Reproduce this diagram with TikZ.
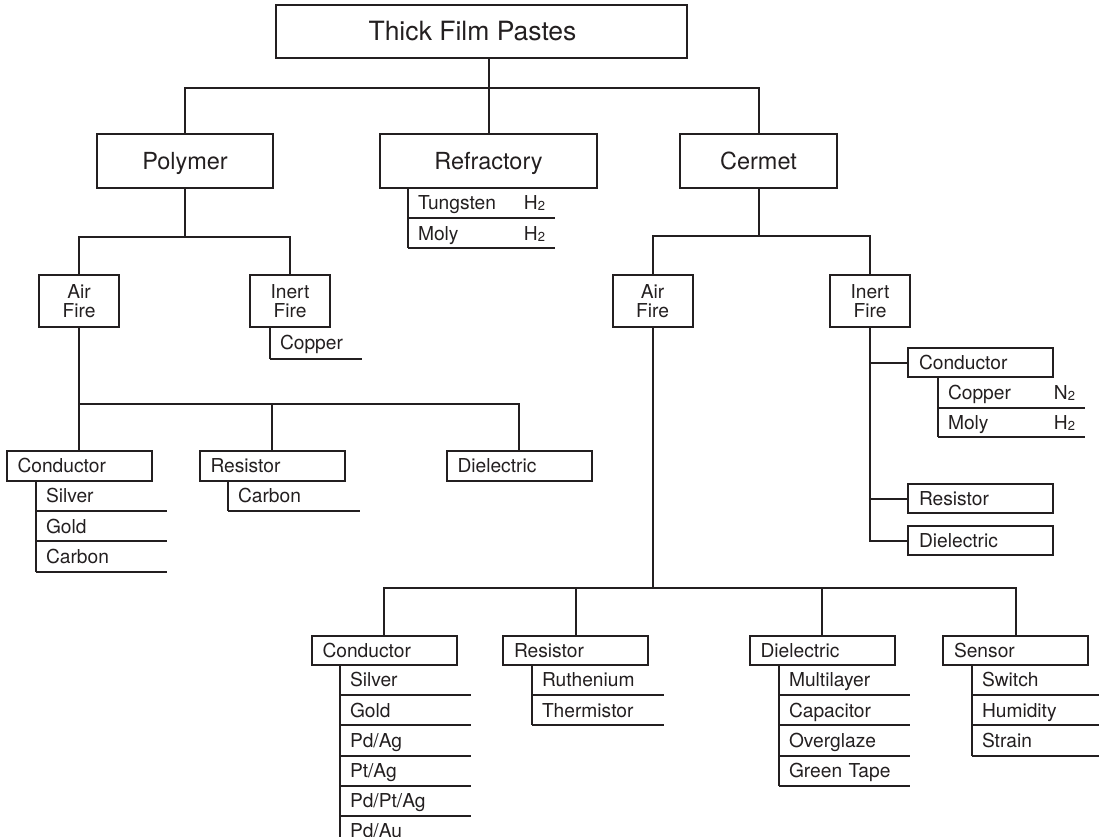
\documentclass[tikz,border=0pt]{standalone}
\usepackage{fontspec}
\setmainfont{TeX Gyre Heros}
\usepackage{tikz}
\usetikzlibrary{positioning}
\definecolor{ink}{RGB}{35,31,32}
\newcommand{\titlesize}{\fontsize{26.5}{28}\selectfont}
\newcommand{\headsize}{\fontsize{23.5}{25}\selectfont}
\newcommand{\labelsize}{\fontsize{19.2}{18.5}\selectfont}
\newcommand{\gas}[2]{#1{\fontsize{13}{13}\selectfont\raisebox{-1pt}{#2}}}

\tikzset{
  headbox/.style={draw, inner sep=0pt, minimum height=54pt, text height=16.9pt, text depth=0pt, font=\headsize},
  firebox/.style={draw, inner sep=0pt, minimum width=80pt, minimum height=52pt, align=center, font=\labelsize},
  catbox/.style={draw, inner xsep=11pt, inner ysep=0pt, text width=123pt, minimum height=29.5pt, text height=13.6pt, text depth=0pt, align=left, font=\labelsize},
  itemrow/.style={inner xsep=9pt, inner ysep=0pt, text width=#1, minimum height=28.2pt, text height=13.6pt, text depth=0pt, align=left, font=\labelsize,
    append after command={(\tikzlastnode.north west) edge (\tikzlastnode.south west) (\tikzlastnode.south west) edge (\tikzlastnode.south east)}},
  itemrow/.default=111pt
}

\begin{document}
\begin{tikzpicture}[x=1pt, y=-1pt, line width=2pt, color=ink]
  \useasboundingbox (0,0) rectangle (1099,836);

  % Root and the three paste families
  \node[draw, inner sep=0pt, minimum width=411pt, minimum height=53pt, font=\titlesize] (pastes) at (481.5,31.5) {Thick Film Pastes\hspace*{18pt}};
  \node[headbox, minimum width=176pt] (polymer) at (185,161) {Polymer};
  \node[headbox, minimum width=217pt] (refractory) at (488.5,161) {Refractory};
  \node[headbox, minimum width=157pt] (cermet) at (758.5,161) {Cermet};

  \coordinate (topbus) at (488.5,88);
  \draw (pastes.south -| refractory.north) -- (refractory.north);
  \draw (polymer.north) |- (topbus) -| (cermet.north);

  % Refractory
  \node[itemrow=127pt, anchor=north west] (tungsten) at (408,188) {Tungsten\hfill\gas{H}{2}};
  \node[itemrow=127pt, below=0pt of tungsten] (moly) {Moly\hfill\gas{H}{2}};

  % Polymer
  \node[firebox] (polyair) at (79,301) {Air\\Fire};
  \node[firebox] (polyinert) at (290,301) {Inert\\Fire};
  \coordinate (polybus) at (185,237);
  \draw (polymer.south) -- (polybus);
  \draw (polyair.north) |- (polybus) -| (polyinert.north);

  \node[itemrow=72pt, minimum height=30pt, anchor=north west] (polycopper) at (270,327) {Copper};

  \node[catbox] (pcond) at (79,466) {Conductor};
  \node[catbox] (pres) at (272,466) {Resistor};
  \node[catbox] (pdiel) at (519,466) {Dielectric};
  \coordinate (pairbus) at (79,404);
  \draw (polyair.south) -- (pcond.north);
  \draw (pres.north) |- (pairbus);
  \draw (pairbus) -| (pdiel.north);

  \node[itemrow, anchor=north west] (psilver) at (36,481) {Silver};
  \node[itemrow, below=0pt of psilver] (pgold) {Gold};
  \node[itemrow, below=0pt of pgold] (pcarbon) {Carbon};
  \node[itemrow=112pt, anchor=north west] (prescarbon) at (228,481) {Carbon};

  % Cermet
  \node[firebox] (cermair) at (652.5,301) {Air\\Fire};
  \node[firebox] (cerminert) at (870,301) {Inert\\Fire};
  \coordinate (cermbus) at (758.5,236);
  \draw (cermet.south) -- (cermbus);
  \draw (cermair.north) |- (cermbus) -| (cerminert.north);

  % Cermet, inert fire
  \node[catbox] (icond) at (980.5,362.5) {Conductor};
  \node[catbox] (ires) at (980.5,498.5) {Resistor};
  \node[catbox] (idiel) at (980.5,540.5) {Dielectric};
  \draw (cerminert.south) |- (idiel.west);
  \draw (icond.west) -- (icond.west -| cerminert.south);
  \draw (ires.west) -- (ires.west -| cerminert.south);

  \node[itemrow=127pt, minimum height=28.5pt, anchor=north west] (icopper) at (938,377) {Copper\hfill\gas{N}{2}};
  \node[itemrow=127pt, minimum height=27.5pt, below=0pt of icopper] (imoly) {Moly\hfill\gas{H}{2}};

  % Cermet, air fire
  \node[catbox] (bcond) at (384,650.5) {Conductor};
  \node[catbox] (bres) at (575.5,650.5) {Resistor};
  \node[catbox] (bdiel) at (822,650.5) {Dielectric};
  \node[catbox] (bsensor) at (1015.5,650.5) {Sensor};
  \coordinate (airbus) at (652.5,588);
  \draw (cermair.south) -- (airbus);
  \draw (bcond.north) |- (airbus) -| (bsensor.north);
  \draw (bres.north) -- (bres.north |- airbus);
  \draw (bdiel.north) -- (bdiel.north |- airbus);

  \node[itemrow, anchor=north west] (bsilver) at (340,665) {Silver};
  \node[itemrow, below=0pt of bsilver] (bgold) {Gold};
  \node[itemrow, below=0pt of bgold] (bpdag) {Pd/Ag};
  \node[itemrow, below=0pt of bpdag] (bptag) {Pt/Ag};
  \node[itemrow, below=0pt of bptag] (bpdptag) {Pd/Pt/Ag};
  \node[itemrow, below=0pt of bpdptag] (bpdau) {Pd/Au};

  \node[itemrow=112pt, anchor=north west] (bruth) at (532,665) {Ruthenium};
  \node[itemrow=112pt, below=0pt of bruth] (btherm) {Thermistor};

  \node[itemrow, anchor=north west] (bmulti) at (779,665) {Multilayer};
  \node[itemrow, below=0pt of bmulti] (bcap) {Capacitor};
  \node[itemrow, below=0pt of bcap] (bglaze) {Overglaze};
  \node[itemrow, below=0pt of bglaze] (btape) {Green Tape};

  \node[itemrow=109pt, anchor=north west] (bswitch) at (972,665) {Switch};
  \node[itemrow=109pt, below=0pt of bswitch] (bhumid) {Humidity};
  \node[itemrow=109pt, below=0pt of bhumid] (bstrain) {Strain};
\end{tikzpicture}
\end{document}
